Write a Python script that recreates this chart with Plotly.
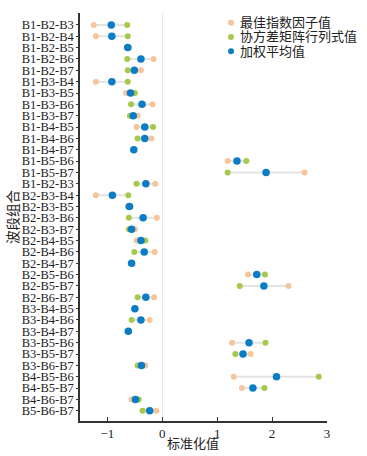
import plotly.graph_objects as go

labels = ["B1-B2-B3", "B1-B2-B4", "B1-B2-B5", "B1-B2-B6", "B1-B2-B7", "B1-B3-B4", "B1-B3-B5",
          "B1-B3-B6", "B1-B3-B7", "B1-B4-B5", "B1-B4-B6", "B1-B4-B7", "B1-B5-B6", "B1-B5-B7",
          "B1-B2-B3", "B2-B3-B4", "B2-B3-B5", "B2-B3-B6", "B2-B3-B7", "B2-B4-B5", "B2-B4-B6",
          "B2-B4-B7", "B2-B5-B6", "B2-B5-B7", "B2-B6-B7", "B3-B4-B5", "B3-B4-B6", "B3-B4-B7",
          "B3-B5-B6", "B3-B5-B7", "B3-B6-B7", "B4-B5-B6", "B4-B5-B7", "B4-B6-B7", "B5-B6-B7"]

oif = [-1.25, -1.21, -0.65, -0.16, -0.39, -1.21, -0.66, -0.18, -0.45, -0.47, -0.20, -0.52, 1.19, 2.59,
       -0.13, -1.21, -0.63, -0.10, -0.50, -0.47, -0.14, -0.56, 1.56, 2.30, -0.15, -0.50, -0.23, -0.63,
       1.27, 1.61, -0.31, 1.30, 1.45, -0.56, -0.11]
det = [-0.64, -0.63, -0.61, -0.64, -0.63, -0.63, -0.50, -0.57, -0.59, -0.17, -0.45, -0.52, 1.53, 1.19,
       -0.47, -0.62, -0.58, -0.61, -0.61, -0.31, -0.51, -0.56, 1.87, 1.41, -0.45, -0.50, -0.56, -0.61,
       1.88, 1.33, -0.45, 2.85, 1.86, -0.43, -0.36]
avg = [-0.93, -0.92, -0.63, -0.39, -0.51, -0.92, -0.58, -0.37, -0.53, -0.32, -0.32, -0.52, 1.36, 1.89,
       -0.30, -0.91, -0.60, -0.35, -0.56, -0.39, -0.33, -0.56, 1.72, 1.85, -0.30, -0.50, -0.39, -0.62,
       1.58, 1.47, -0.38, 2.08, 1.65, -0.49, -0.23]

names = ["最佳指数因子值", "协方差矩阵行列式值", "加权平均值"]
colors = ["#F7C59C", "#A6C84B", "#0B7DC6"]
sizes = [6, 6, 7.5]

idx = list(range(len(labels)))

W, H = 367, 456
L, R, T, B = 80, 40, 13, 35
pw, ph = W - L - R, H - T - B


def px(x):
    return (x - L) / pw


def py(y):
    return (H - B - y) / ph


fig = go.Figure()

# connecting lines
lx, ly = [], []
for i in idx:
    lo = min(oif[i], det[i], avg[i])
    hi = max(oif[i], det[i], avg[i])
    lx += [lo, hi, None]
    ly += [i, i, None]
fig.add_trace(go.Scatter(x=lx, y=ly, mode="lines", line=dict(color="#E3E3E3", width=2),
                         showlegend=False, hoverinfo="skip"))

for vals, name, col, size in zip([oif, det, avg], names, colors, sizes):
    fig.add_trace(go.Scatter(x=vals, y=idx, mode="markers", name=name, showlegend=False,
                             marker=dict(color=col, size=size, line=dict(width=0))))

font_family = "Liberation Serif, Noto Sans CJK SC, serif"
txt = "#222"

# custom legend
legend_y = [22.7, 36.9, 51.2]
for name, col, size, yy in zip(names, colors, sizes, legend_y):
    d = 6
    fig.add_shape(type="circle", xref="paper", yref="paper", xsizemode="pixel", ysizemode="pixel",
                  xanchor=px(231), yanchor=py(yy), x0=-d / 2, x1=d / 2, y0=-d / 2, y1=d / 2,
                  fillcolor=col, line=dict(width=0))
    fig.add_annotation(x=px(238), y=py(yy), xref="paper", yref="paper", text=name, showarrow=False,
                       xanchor="left", yanchor="middle", font=dict(size=13, color=txt))

# axis titles
fig.add_annotation(x=px(193), y=py(443), xref="paper", yref="paper", text="标准化值", showarrow=False,
                   xanchor="center", yanchor="middle", font=dict(size=13, color=txt))
fig.add_annotation(x=px(13), y=py(217), xref="paper", yref="paper", text="波段组合", showarrow=False,
                   textangle=-90, xanchor="center", yanchor="middle", font=dict(size=13.5, color=txt))

fig.update_layout(
    width=W, height=H,
    margin=dict(l=L, r=R, t=T, b=B),
    paper_bgcolor="white", plot_bgcolor="white",
    font=dict(family=font_family, size=13, color=txt),
    showlegend=False,
    xaxis=dict(range=[-1.5, 3], tickvals=[-1, 0, 1, 2, 3], ticktext=["−1", "0", "1", "2", "3"],
               showline=True, linecolor="#333", linewidth=1.5, ticks="inside", ticklen=4,
               tickcolor="#333", showgrid=False, zeroline=True, zerolinecolor="#E8E8E8",
               zerolinewidth=1, automargin=False, tickfont=dict(size=13)),
    yaxis=dict(range=[34.9, -1.05], tickvals=idx, ticktext=labels, showline=True,
               linecolor="#333", linewidth=1.5, ticks="outside", ticklen=2, tickcolor="#333",
               showgrid=False, zeroline=False, automargin=False, tickfont=dict(size=12.5)),
)

fig.write_html("out.html", config={"displayModeBar": False},
               post_script="document.body.style.margin='0';document.body.style.overflow='hidden';")
